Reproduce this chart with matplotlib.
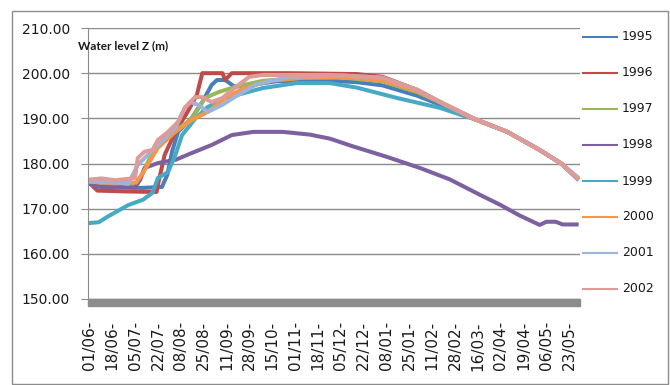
"""
Reservoir water level Z (m) over the hydrological year (01/06 - 31/05), 1995-2002
"""
import numpy as np
import matplotlib
matplotlib.use("Agg")
import matplotlib.pyplot as plt
from matplotlib.patches import Rectangle
from matplotlib.lines import Line2D

# days counted from 01/06, values = water level (m)
d1995 = [0, 10, 40, 55, 59, 62.5, 67, 77, 85, 92, 96, 102, 109, 120, 140, 170, 200, 219, 245, 262, 286, 312, 336, 352, 365]
z1995 = [175.6, 174.8, 174.6, 174.8, 177.5, 182.6, 187, 190, 193.6, 197.4, 198.5, 198.5, 197, 197.3, 198.2, 198.5, 198, 197.3, 195, 193, 190, 187, 183, 180, 176.5]

d1996 = [0, 7, 30, 51, 52, 57, 65, 74, 81, 85, 100, 102, 107, 150, 200, 219, 245, 262, 286, 312, 336, 352, 365]
z1996 = [176, 174, 173.8, 173.7, 175.3, 181.9, 187, 191.4, 195.2, 200, 200, 198.5, 200, 200, 199.8, 199.2, 196.3, 193.6, 190.1, 187, 183, 180, 176.4]

d1997 = [0, 20, 36, 41, 48, 58, 65, 77, 87, 97, 110, 130, 160, 190, 219, 245, 262, 286, 312, 336, 352, 365]
z1997 = [176, 175.5, 175.5, 178, 182.5, 185.5, 187.3, 189.8, 194.5, 195.8, 197, 198.3, 199, 199, 198.2, 195.8, 193.5, 190, 187, 183, 180, 176.5]

d1998 = [0, 7, 35, 39, 42, 52, 65, 77, 92, 107, 123, 145, 165, 180, 197, 222, 247, 269, 292, 307, 321, 336, 341, 348, 353, 365]
z1998 = [175.7, 174.9, 174.7, 176.5, 179, 180.1, 180.8, 182.3, 184.1, 186.3, 187, 187, 186.4, 185.5, 183.8, 181.5, 179, 176.5, 173, 170.8, 168.5, 166.4, 167.1, 167.1, 166.5, 166.5]

d1999 = [0, 8, 15, 30, 41, 48, 52, 59.5, 65, 70, 80, 89, 102, 115, 130, 155, 180, 200, 230, 262, 280, 286, 312, 336, 352, 365]
z1999 = [166.8, 167, 168.3, 170.8, 172, 173.5, 176.8, 178.1, 181.9, 186.3, 190, 192.5, 194.5, 195.5, 196.7, 197.8, 197.8, 196.8, 194.5, 192.3, 190.5, 190, 187, 183, 180, 176.3]

d2000 = [0, 20, 36, 41, 52, 65, 77, 89, 102, 115, 135, 160, 190, 219, 245, 262, 286, 312, 336, 352, 365]
z2000 = [176, 175.6, 175.8, 178, 183.5, 187, 189.6, 191.4, 194.5, 196.5, 198.3, 199, 199.2, 198.4, 196, 193.6, 190, 187, 183, 180, 176.5]

d2001 = [0, 20, 30, 37, 52, 65, 72, 76, 82, 89, 100, 109, 125, 150, 190, 219, 245, 262, 286, 312, 336, 352, 365]
z2001 = [176, 175.8, 175.5, 179.7, 184.1, 187.9, 192.3, 193.6, 193, 191.4, 193, 194.7, 197.5, 199.2, 199.5, 199, 196.3, 193.6, 190.1, 187, 183, 180, 176.8]

d2002 = [0, 10, 20, 30, 35, 37, 42, 48, 52, 59.5, 67, 72, 79.6, 85, 92, 100, 109, 120, 130, 180, 219, 245, 262, 286, 312, 336, 352, 365]
z2002 = [176.4, 176.7, 176.3, 176.6, 176.8, 181.2, 182.6, 183, 185.2, 187, 189.2, 192.3, 194.7, 194.7, 193.6, 194.5, 196.7, 199.2, 199.6, 199.6, 199, 196.3, 193.6, 190.1, 187, 183, 180, 176.5]

years = ["1995", "1996", "1997", "1998", "1999", "2000", "2001", "2002"]
colors = ["#4a7ebb", "#be4b48", "#98b954", "#7d60a0", "#46aac5", "#f79646", "#9db4da", "#e09a98"]

tick_labels = ["01/06-", "18/06-", "05/07-", "22/07-", "08/08-", "25/08-", "11/09-", "28/09-",
               "15/10-", "01/11-", "18/11-", "05/12-", "22/12-", "08/01-", "25/01-", "11/02-",
               "28/02-", "16/03-", "02/04-", "19/04-", "06/05-", "23/05-"]

series = [(d1995, z1995), (d1996, z1996), (d1997, z1997), (d1998, z1998),
          (d1999, z1999), (d2000, z2000), (d2001, z2001), (d2002, z2002)]

grid_c = "#8c8c8c"

fig = plt.figure(figsize=(6.7, 3.85), dpi=100)
ax = fig.add_axes([88/670, 1-299/385, 492/670, 271/385])

for (d, z), c, y in zip(series, colors, years):
    ax.plot(d, z, color=c, lw=2.9, solid_joinstyle="round", solid_capstyle="butt", label=y)

ax.set_xlim(0, 366)
ax.set_ylim(150, 210)
ax.set_yticks(np.arange(150, 211, 10))
ax.set_yticklabels([f"{v:.2f}" for v in np.arange(150, 211, 10)])
ax.set_xticks(np.arange(len(tick_labels)) * 17 + 1)
ax.set_xticklabels(tick_labels, rotation=90, va="top", ha="center")

ax.grid(axis="y", color=grid_c, lw=1)
ax.set_axisbelow(True)
for s in ["top", "right", "bottom"]:
    ax.spines[s].set_visible(False)
ax.spines["left"].set_color(grid_c)
ax.tick_params(axis="y", length=5, color=grid_c, pad=8, labelsize=10, labelcolor="#1a1a1a")
ax.tick_params(axis="x", length=0, pad=16, labelsize=11, labelcolor="#1a1a1a")

# thick grey band of daily tick marks under the plot
ax.add_patch(Rectangle((0, -0.026), 1, 0.026, transform=ax.transAxes,
                       color="#8c8c8c", clip_on=False, zorder=3))

fig.text(78/670, 1-46/385, "Water level Z (m)", fontsize=8.5, fontweight="bold",
         family="Lato", va="center", ha="left", color="#1a1a1a")

# legend on the right
for i, (c, y) in enumerate(zip(colors, years)):
    yy = 1 - (37 + 36*i)/385
    fig.add_artist(Line2D([583/670, 617/670], [yy, yy], color=c, lw=1.5))
    fig.text(622/670, yy, y, fontsize=9, va="center", ha="left", color="#1a1a1a")

# chart border
fig.add_artist(Rectangle((12/670, 1/385), 656/670, 373/385, fill=False,
                         edgecolor="#8c8c8c", lw=1))

fig.savefig("out.png", dpi=100)
